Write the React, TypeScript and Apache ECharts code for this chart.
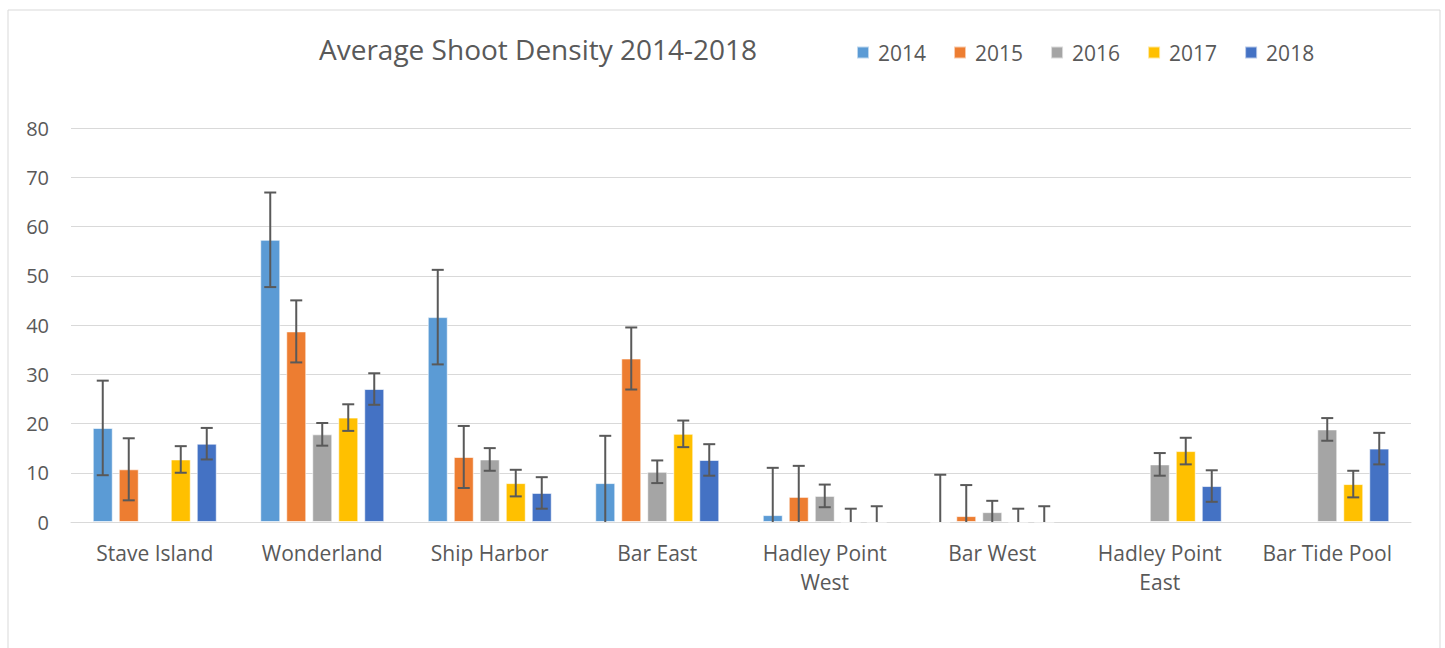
import React, { useEffect, useRef } from "react";
import * as echarts from "echarts";

const categories = [
  "Stave Island",
  "Wonderland",
  "Ship Harbor",
  "Bar East",
  "Hadley Point\nWest",
  "Bar West",
  "Hadley Point\nEast",
  "Bar Tide Pool",
];
const years = ["2014", "2015", "2016", "2017", "2018"];
const v2014 = [19.1, 57.3, 41.6, 7.9, 1.4, 0, null, null];
const v2015 = [10.7, 38.7, 13.2, 33.2, 5.1, 1.2, null, null];
const v2016 = [null, 17.8, 12.7, 10.2, 5.3, 2.0, 11.7, 18.8];
const v2017 = [12.7, 21.2, 7.9, 17.9, 0, 0, 14.4, 7.7];
const v2018 = [15.9, 27.0, 5.9, 12.6, 0, 0, 7.3, 14.9];
const errors = [9.6, 6.3, 2.3, 2.7, 3.2];
const yTicks = { min: 0, max: 80, interval: 10 };
const colors = ["#5B9BD5", "#ED7D31", "#A5A5A5", "#FFC000", "#4472C4"];

const seriesValues = [v2014, v2015, v2016, v2017, v2018];
const FONT = "'Open Sans', sans-serif";
const TXT = "#595959";
const BAR_W = 20;
const BAR_GAP = 0.3;

export default function App() {
  const ref = useRef<HTMLDivElement>(null);
  useEffect(() => {
    document.body.style.margin = "0";
    const chart = echarts.init(ref.current!, null, { renderer: "svg" });
    const step = BAR_W * (1 + BAR_GAP);
    const barSeries = years.map((y, i) => ({
      name: y,
      type: "bar",
      data: seriesValues[i],
      barWidth: BAR_W,
      barGap: BAR_GAP * 100 + "%",
      itemStyle: { color: colors[i], borderColor: "rgba(255,255,255,0.6)", borderWidth: 1 },
    }));
    const errSeries = years.map((y, i) => ({
      name: y + " error",
      type: "custom",
      z: 5,
      encode: { x: 0, y: 1 },
      data: seriesValues[i]
        .map((v, ci) => (v === null ? null : [ci, v, errors[i]]))
        .filter((d) => d !== null),
      renderItem: (params: any, api: any) => {
        const ci = api.value(0);
        const v = api.value(1);
        const e = api.value(2);
        const offset = (i - 2) * step;
        const c = api.coord([ci, v]);
        const x = c[0] + offset;
        const top = api.coord([ci, v + e])[1];
        const lowV = Math.max(0, v - e);
        const bottom = api.coord([ci, lowV])[1];
        const style = { stroke: "#595959", lineWidth: 2 };
        const cap = 6;
        const children: any[] = [
          { type: "line", shape: { x1: x, y1: top, x2: x, y2: bottom }, style },
          { type: "line", shape: { x1: x - cap, y1: top, x2: x + cap, y2: top }, style },
        ];
        if (v - e >= 0) {
          children.push({ type: "line", shape: { x1: x - cap, y1: bottom, x2: x + cap, y2: bottom }, style });
        }
        return { type: "group", children };
      },
    }));
    chart.setOption({
      animation: false,
      textStyle: { fontFamily: FONT },
      title: {
        text: "Average Shoot Density 2014-2018",
        left: 314,
        top: 30,
        textStyle: { fontFamily: FONT, fontSize: 28, fontWeight: "normal", color: TXT },
      },
      legend: {
        data: years,
        left: 851,
        top: 37,
        icon: "rect",
        itemWidth: 12,
        itemHeight: 12,
        itemGap: 27,
        textStyle: { fontFamily: FONT, fontSize: 21, color: TXT, padding: [0, 0, 0, 4] },
      },
      graphic: [
        {
          type: "rect",
          shape: { x: 8, y: 10, width: 1432, height: 700 },
          style: { fill: "none", stroke: "#D9D9D9", lineWidth: 1 },
          silent: true,
        },
      ],
      grid: { left: 71, right: 34, top: 128, bottom: 126 },
      xAxis: {
        type: "category",
        data: categories,
        axisLine: { lineStyle: { color: "#D9D9D9", width: 1 } },
        axisTick: { show: false },
        axisLabel: { fontFamily: FONT, fontSize: 21, color: TXT, margin: 16, lineHeight: 29, interval: 0 },
      },
      yAxis: {
        type: "value",
        min: yTicks.min,
        max: yTicks.max,
        interval: yTicks.interval,
        axisLine: { show: false },
        axisTick: { show: false },
        splitLine: { lineStyle: { color: "#D9D9D9", width: 1 } },
        axisLabel: { fontFamily: FONT, fontSize: 20, color: TXT, margin: 22 },
      },
      series: [...barSeries, ...errSeries],
    });
    return () => chart.dispose();
  }, []);
  return <div ref={ref} style={{ width: 1445, height: 648 }} />;
}
